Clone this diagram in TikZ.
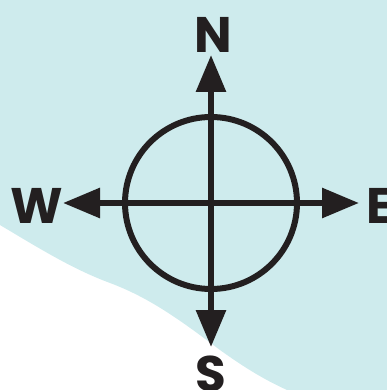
\documentclass[tikz,border=0pt]{standalone}
\usepackage{fontspec}
\setmainfont{Poppins}
\usetikzlibrary{arrows.meta}
\definecolor{SeaTint}{RGB}{206,235,237}
\definecolor{InkDark}{RGB}{35,31,32}

\begin{document}
\begin{tikzpicture}[x=1pt,y=-1pt,
  ring/.style={circle,draw=InkDark,line width=6pt,minimum size=172pt,inner sep=0pt},
  arrow/.style={-{Triangle[length=37pt,width=29pt]},line width=6pt,InkDark},
  point/.style={font=\fontsize{50}{50}\selectfont\bfseries,text=InkDark,inner sep=0pt}
]
  \useasboundingbox (0,0) rectangle (387,390);
  % sea and shore
  \fill[SeaTint] (0,0) -- (387,0) -- (387,390) -- (287,390)
    .. controls (265,380) and (245,368) .. (220,350)
    .. controls (180,320) and (150,298) .. (110,283)
    .. controls (75,270) and (45,252) .. (0,225) -- cycle;
  % compass
  \node[ring] (c) at (211,203) {};
  \coordinate (ntip) at (211,55);
  \coordinate (stip) at (211,347);
  \coordinate (etip) at (359,203);
  \coordinate (wtip) at (63,203);
  \draw[arrow] (c.center) -- (ntip);
  \draw[arrow] (c.center) -- (stip);
  \draw[arrow] (c.center) -- (etip);
  \draw[arrow] (c.center) -- (wtip);
  \node[point] (n) at (213,35) {N};
  \node[point] (s) at (211,374) {S};
  \node[point] (e) at (380,206) {E};
  \node[point] (w) at (37,206) {W};
\end{tikzpicture}
\end{document}
